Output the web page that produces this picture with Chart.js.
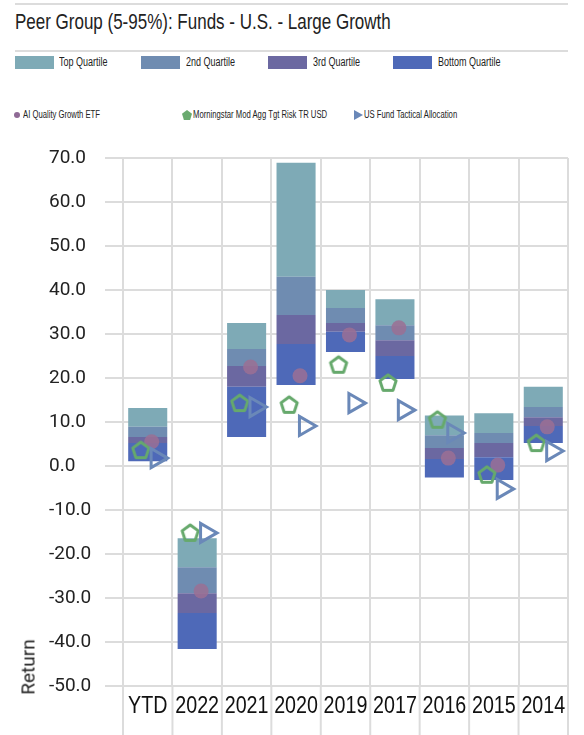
<!DOCTYPE html>
<html>
<head>
<meta charset="utf-8">
<script src="https://cdn.jsdelivr.net/npm/chart.js@4.4.1/dist/chart.umd.min.js"></script>
<style>
  body { margin: 0; background: #fff; }
  #page { position: relative; width: 584px; height: 735px; overflow: hidden;
          font-family: 'Liberation Sans', Arial, sans-serif; color: #222; }
  .rule { position: absolute; left: 15px; width: 553px; height: 2px; background: #dcdcdc; }
  .narrow { transform-origin: 0 50%; white-space: nowrap; position: absolute; }
  #title { left: 15px; top: 10px; font-size: 21.5px; line-height: 24px; transform: scaleX(0.79); }
  .qbox { position: absolute; top: 56px; width: 39px; height: 13px; }
  .qlab { top: 55px; font-size: 12px; line-height: 14px; transform: scaleX(0.75); }
  .mlab { top: 109px; font-size: 10px; line-height: 12px; transform: scaleX(0.77); }
  .glyph { position: absolute; }
  #ytitle { position: absolute; left: 28px; top: 667px; transform: translate(-50%, -50%) rotate(-90deg);
            font-family: Roboto, sans-serif; font-size: 19px; white-space: nowrap; color: #222; }
  #wrap { position: absolute; left: 0; top: 0; width: 584px; height: 735px; }
</style>
</head>
<body>
<div id="page">
  <div class="rule" style="top:3px"></div>
  <div id="title" class="narrow">Peer Group (5-95%): Funds - U.S. - Large Growth</div>
  <div class="rule" style="top:50px"></div>

  <div class="qbox" style="left:15px;background:#7eaab6"></div>
  <div class="qlab narrow" style="left:59px">Top Quartile</div>
  <div class="qbox" style="left:141px;background:#6f8cb1"></div>
  <div class="qlab narrow" style="left:186px">2nd Quartile</div>
  <div class="qbox" style="left:268px;background:#6b68a1"></div>
  <div class="qlab narrow" style="left:313px">3rd Quartile</div>
  <div class="qbox" style="left:393px;background:#4e69b8"></div>
  <div class="qlab narrow" style="left:438px">Bottom Quartile</div>

  <div class="glyph" style="left:14px;top:112px;width:6px;height:6px;border-radius:50%;background:#8f6a95"></div>
  <div class="mlab narrow" style="left:23px">AI Quality Growth ETF</div>
  <div class="glyph" style="left:182px;top:110px;width:10px;height:10px;background:#6aaa6f;clip-path:polygon(50% 0,100% 38%,81% 100%,19% 100%,0 38%)"></div>
  <div class="mlab narrow" style="left:193px">Morningstar Mod Agg Tgt Risk TR USD</div>
  <div class="glyph" style="left:354px;top:110px;width:9px;height:10px;background:#6a88b8;clip-path:polygon(0 0,100% 50%,0 100%)"></div>
  <div class="mlab narrow" style="left:364px">US Fund Tactical Allocation</div>

  <div id="wrap"><canvas id="chart"></canvas></div>
  <div id="ytitle">Return</div>
</div>

<script>
const categories = ['YTD', '2022', '2021', '2020', '2019', '2017', '2016', '2015', '2014'];

// peer group percentiles
const p95 = [13.2, -16.4, 32.5, 68.9, 40.0, 37.9, 11.5, 12.0, 18.0];
const p75 = [8.9, -23.0, 26.6, 43.0, 35.9, 32.0, 7.0, 7.5, 13.4];
const p50 = [6.6, -28.9, 22.7, 34.3, 32.5, 28.6, 4.1, 5.2, 11.1];
const p25 = [5.2, -33.4, 18.0, 27.7, 30.5, 25.0, 1.6, 2.0, 9.1];
const p5 = [1.1, -41.6, 6.6, 18.4, 25.9, 19.8, -2.6, -3.2, 5.2];

const fundReturns = [5.5, -28.4, 22.5, 20.5, 29.8, 31.4, 1.8, 0.2, 8.9];
const indexReturns = [3.6, -15.2, 14.3, 13.9, 23.0, 18.9, 10.5, -2.0, 5.2];
const categoryReturns = [1.8, -15.2, 13.4, 9.1, 14.3, 12.7, 7.5, -5.2, 3.4];

const yTicks = [70, 60, 50, 40, 30, 20, 10, 0, -10, -20, -30, -40, -50];

const gridColor = '#dcdcdc';

function floating(lo, hi) {
  return lo.map((v, i) => [v, hi[i]]);
}

function shifted(values, dx) {
  return values.map((v, i) => ({ x: i + dx, y: v }));
}

function pentagonImage(color) {
  const c = document.createElement('canvas');
  c.width = 24; c.height = 24;
  const g = c.getContext('2d');
  g.beginPath();
  for (let k = 0; k < 5; k++) {
    const a = -Math.PI / 2 + k * 2 * Math.PI / 5;
    const px = 12 + Math.cos(a) * 8.5, py = 12.5 + Math.sin(a) * 8.5;
    k === 0 ? g.moveTo(px, py) : g.lineTo(px, py);
  }
  g.closePath();
  g.lineWidth = 3;
  g.lineJoin = 'round';
  g.strokeStyle = color;
  g.stroke();
  return c;
}

const barBase = { type: 'bar', grouped: false, barPercentage: 0.79, categoryPercentage: 1, order: 10, borderWidth: 0 };

// vertical grid lines continue down through the label band,
// and the category labels are drawn in a condensed face
const xAxisExtras = {
  id: 'xAxisExtras',
  afterDraw(chart) {
    const { ctx, chartArea } = chart;
    const xs = chart.scales.x;
    const step = (chartArea.right - chartArea.left) / categories.length;
    ctx.save();
    ctx.strokeStyle = gridColor;
    ctx.lineWidth = 2;
    for (let k = 0; k <= categories.length; k++) {
      const x = chartArea.left + k * step;
      ctx.beginPath();
      ctx.moveTo(x, chartArea.bottom);
      ctx.lineTo(x, chart.height);
      ctx.stroke();
    }
    ctx.fillStyle = '#111';
    ctx.font = "24px 'Liberation Sans', Arial, sans-serif";
    ctx.textAlign = 'center';
    ctx.textBaseline = 'middle';
    categories.forEach((c, i) => {
      ctx.save();
      ctx.translate(xs.getPixelForValue(i), chartArea.bottom + 20);
      ctx.scale(0.82, 1);
      ctx.fillText(c, 0, 0);
      ctx.restore();
    });
    ctx.restore();
  }
};

new Chart(document.getElementById('chart'), {
  data: {
    labels: categories,
    datasets: [
      { ...barBase, label: 'Bottom Quartile', data: floating(p5, p25), backgroundColor: '#4e69b8' },
      { ...barBase, label: '3rd Quartile', data: floating(p25, p50), backgroundColor: '#6b68a1' },
      { ...barBase, label: '2nd Quartile', data: floating(p50, p75), backgroundColor: '#6f8cb1' },
      { ...barBase, label: 'Top Quartile', data: floating(p75, p95), backgroundColor: '#7eaab6' },
      {
        type: 'scatter', label: 'AI Quality Growth ETF', xAxisID: 'x2', order: 3,
        data: shifted(fundReturns, 0.08),
        pointStyle: 'circle', pointRadius: 7.5, pointBorderWidth: 0,
        pointBackgroundColor: 'rgba(155,112,148,0.85)'
      },
      {
        type: 'scatter', label: 'Morningstar Mod Agg Tgt Risk TR USD', xAxisID: 'x2', order: 2,
        data: shifted(indexReturns, -0.14),
        pointStyle: pentagonImage('#66a96c'), pointRadius: 9
      },
      {
        type: 'scatter', label: 'US Fund Tactical Allocation', xAxisID: 'x2', order: 1,
        data: shifted(categoryReturns, 0.18),
        pointStyle: 'triangle', rotation: 90, pointRadius: 11,
        pointBackgroundColor: 'rgba(0,0,0,0)', pointBorderColor: '#6a88b8', pointBorderWidth: 3
      }
    ]
  },
  options: {
    responsive: true,
    maintainAspectRatio: false,
    animation: false,
    layout: { padding: { top: 158, left: 49, right: 16, bottom: 0 } },
    plugins: { legend: { display: false }, tooltip: { enabled: false } },
    scales: {
      x: {
        type: 'category',
        afterFit: s => { s.height = 49; },
        grid: { color: gridColor, lineWidth: 2, offset: true, drawTicks: false },
        border: { display: false },
        ticks: { display: false }
      },
      x2: { type: 'linear', min: -0.5, max: 8.5, display: false },
      y: {
        min: -50, max: 70,
        afterFit: s => { s.width = 74; },
        afterBuildTicks: s => { s.ticks = yTicks.map(v => ({ value: v })); },
        grid: { color: gridColor, lineWidth: 2, tickLength: 18 },
        border: { display: false },
        ticks: {
          crossAlign: 'far', color: '#222',
          font: { family: 'Roboto, sans-serif', size: 19 },
          callback: v => v.toFixed(1)
        }
      }
    }
  },
  plugins: [xAxisExtras]
});
</script>
</body>
</html>
